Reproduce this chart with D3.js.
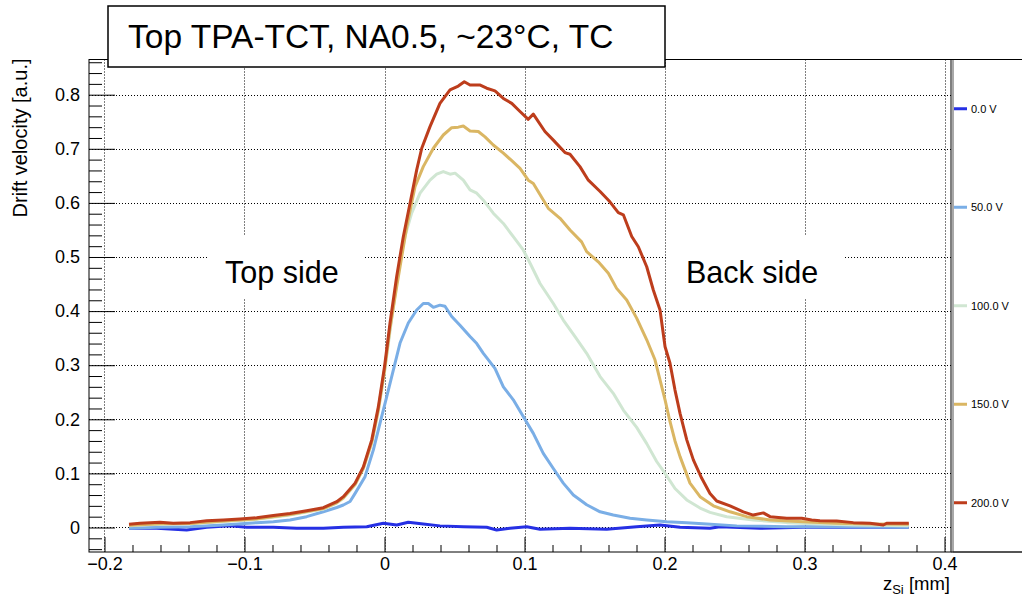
<!DOCTYPE html>
<meta charset="utf-8">
<head>
	<title>Top TPA-TCT drift velocity</title>
	<script type="text/javascript" src="https://cdn.jsdelivr.net/npm/d3@7"></script>
	<style>
		body { margin: 0; background: #fff; }
		svg { display: block; font-family: "Liberation Sans", Arial, sans-serif; }
		.grid line { stroke: #000; stroke-width: 1; stroke-dasharray: 1,2; }
		.axis path { display: none; }
		.axis line { stroke: #000; }
		.axis text { font-size: 18px; fill: #000; font-family: "Liberation Sans", Arial, sans-serif; }
	</style>
</head>
<body>
<div id="chart"></div>
<script>
// series labels + colours
var labels = ["0.0 V", "50.0 V", "100.0 V", "150.0 V", "200.0 V"];
var colors = ["#2630e4", "#7aaee6", "#d0e6d2", "#dab663", "#bd3d1c"];

// [z (mm), drift velocity]
var v0 = [[-0.1825,-0.0015],[-0.1627,-0.0015],[-0.1413,-0.0046],[-0.127,0.0004],[-0.1104,0.003],[-0.0984,0.0004],[-0.0794,0.0004],[-0.0627,-0.0015],[-0.0437,-0.0015],[-0.0294,0.0004],[-0.0127,0.0015],[-0.0008,0.0078],[0.0087,0.0046],[0.017,0.0096],[0.0277,0.0065],[0.0396,0.003],[0.0563,0.0015],[0.073,0.0004],[0.0801,-0.0046],[0.0896,-0.0015],[0.1016,0.0015],[0.1111,-0.0033],[0.1325,-0.0015],[0.1587,-0.0033],[0.1801,0.0015],[0.1968,0.0046],[0.2111,0.0004],[0.2325,-0.0015],[0.2396,0.0015],[0.2682,-0.0015],[0.2991,0.0004],[0.3349,0.0004],[0.3745,0.0004]];

var v50 = [[-0.1825,-0.0015],[-0.1627,0.0004],[-0.1389,0.0015],[-0.1151,0.0046],[-0.0913,0.009],[-0.0794,0.0107],[-0.0675,0.0139],[-0.0556,0.020],[-0.0437,0.029],[-0.0341,0.037],[-0.0294,0.0416],[-0.0246,0.048],[-0.021,0.063],[-0.0139,0.094],[-0.008,0.143],[-0.0032,0.193],[0.0016,0.242],[0.0063,0.291],[0.0111,0.341],[0.017,0.378],[0.023,0.402],[0.0277,0.414],[0.0313,0.414],[0.0349,0.407],[0.0396,0.411],[0.0432,0.409],[0.048,0.390],[0.0539,0.374],[0.0611,0.353],[0.0659,0.340],[0.0706,0.322],[0.0789,0.294],[0.0849,0.260],[0.092,0.236],[0.0991,0.205],[0.1063,0.174],[0.1134,0.137],[0.1206,0.109],[0.1277,0.082],[0.1349,0.060],[0.1444,0.042],[0.154,0.029],[0.1634,0.023],[0.1754,0.017],[0.1873,0.014],[0.2016,0.0107],[0.2159,0.009],[0.2301,0.0065],[0.2516,0.003],[0.2873,0.0015],[0.323,0.0015],[0.3745,0.0004]];

var v100 = [[-0.1825,0.003],[-0.16,0.006],[-0.139,0.007],[-0.115,0.011],[-0.091,0.015],[-0.0675,0.023],[-0.0437,0.034],[-0.0341,0.045],[-0.0294,0.054],[-0.021,0.079],[-0.0151,0.109],[-0.0091,0.156],[-0.0044,0.215],[0,0.287],[0.0039,0.362],[0.0099,0.476],[0.0146,0.5375],[0.0194,0.581],[0.0254,0.618],[0.0325,0.642],[0.0373,0.653],[0.042,0.658],[0.0468,0.653],[0.0504,0.655],[0.0563,0.642],[0.0611,0.624],[0.0659,0.618],[0.0706,0.605],[0.0777,0.581],[0.0849,0.562],[0.092,0.5375],[0.0991,0.513],[0.1039,0.489],[0.1111,0.451],[0.1206,0.414],[0.1277,0.3835],[0.1361,0.353],[0.1444,0.322],[0.154,0.279],[0.1634,0.248],[0.1706,0.217],[0.1801,0.185],[0.1873,0.155],[0.1944,0.122],[0.2004,0.100],[0.2075,0.072],[0.2159,0.051],[0.2254,0.036],[0.2325,0.028],[0.2444,0.020],[0.2634,0.014],[0.2873,0.009],[0.311,0.0065],[0.3349,0.0046],[0.3745,0.003]];

var v150 = [[-0.1825,0.004],[-0.16,0.007],[-0.139,0.0075],[-0.115,0.012],[-0.091,0.016],[-0.0675,0.024],[-0.0437,0.035],[-0.0341,0.046],[-0.0294,0.055],[-0.021,0.080],[-0.0151,0.110],[-0.0091,0.158],[-0.0044,0.218],[0,0.290],[0.0039,0.368],[0.0087,0.445],[0.0159,0.556],[0.0218,0.630],[0.0277,0.667],[0.0349,0.701],[0.042,0.7255],[0.048,0.739],[0.0527,0.740],[0.0563,0.742],[0.0611,0.733],[0.067,0.732],[0.0718,0.722],[0.0777,0.707],[0.0849,0.692],[0.0909,0.678],[0.0968,0.664],[0.1027,0.642],[0.1063,0.636],[0.117,0.590],[0.1254,0.5715],[0.1325,0.550],[0.1408,0.528],[0.1444,0.510],[0.1527,0.491],[0.1599,0.470],[0.1658,0.442],[0.173,0.4205],[0.1801,0.387],[0.1873,0.347],[0.1932,0.310],[0.1968,0.273],[0.2004,0.236],[0.2039,0.196],[0.2075,0.160],[0.2111,0.131],[0.2182,0.082],[0.2254,0.057],[0.2349,0.040],[0.2468,0.029],[0.2587,0.020],[0.2754,0.0139],[0.2991,0.0107],[0.323,0.0078],[0.3468,0.0065],[0.3745,0.006]];

var v200 = [[-0.1825,0.006],[-0.1746,0.0078],[-0.1604,0.0096],[-0.1509,0.0078],[-0.1389,0.009],[-0.127,0.0126],[-0.1151,0.0139],[-0.1032,0.0157],[-0.0913,0.018],[-0.0794,0.022],[-0.0675,0.026],[-0.0556,0.031],[-0.0437,0.0366],[-0.0341,0.0477],[-0.0294,0.057],[-0.021,0.082],[-0.0151,0.112],[-0.0091,0.162],[-0.0044,0.223],[0,0.297],[0.0039,0.377],[0.0087,0.464],[0.0134,0.537],[0.0182,0.599],[0.023,0.661],[0.0266,0.701],[0.0325,0.741],[0.0396,0.784],[0.0468,0.809],[0.0527,0.816],[0.057,0.824],[0.0611,0.818],[0.068,0.818],[0.073,0.812],[0.0789,0.807],[0.0849,0.793],[0.0909,0.784],[0.0968,0.769],[0.1027,0.7545],[0.1063,0.764],[0.1146,0.732],[0.1206,0.716],[0.1289,0.693],[0.1325,0.690],[0.1396,0.667],[0.1456,0.642],[0.154,0.621],[0.161,0.602],[0.167,0.582],[0.1706,0.578],[0.1766,0.538],[0.1813,0.519],[0.1873,0.482],[0.192,0.439],[0.1968,0.402],[0.2004,0.334],[0.2039,0.304],[0.2075,0.254],[0.2111,0.211],[0.2159,0.162],[0.2206,0.125],[0.2266,0.091],[0.2325,0.063],[0.2373,0.049],[0.2468,0.040],[0.2563,0.029],[0.2634,0.023],[0.2706,0.027],[0.2754,0.020],[0.2873,0.017],[0.298,0.017],[0.3051,0.014],[0.311,0.0126],[0.323,0.012],[0.3349,0.009],[0.3468,0.0078],[0.3563,0.0046],[0.3587,0.0078],[0.3745,0.0078]];

var series = [v0, v50, v100, v150, v200];

// ticks
var xMajor = [-0.2, -0.1, 0, 0.1, 0.2, 0.3, 0.4];
var xMinor = [-0.18,-0.16,-0.14,-0.12,-0.08,-0.06,-0.04,-0.02,0.02,0.04,0.06,0.08,0.12,0.14,0.16,0.18,0.22,0.24,0.26,0.28,0.32,0.34,0.36,0.38];
var yMajor = [0, 0.1, 0.2, 0.3, 0.4, 0.5, 0.6, 0.7, 0.8];
var yMinor = [-0.04,-0.02,0.02,0.04,0.06,0.08,0.12,0.14,0.16,0.18,0.22,0.24,0.26,0.28,0.32,0.34,0.36,0.38,0.42,0.44,0.46,0.48,0.52,0.54,0.56,0.58,0.62,0.64,0.66,0.68,0.72,0.74,0.76,0.78,0.82,0.84,0.86];

var W = 1022, H = 598;
var frame = {left: 89, right: 951, top: 59.5, bottom: 552};

var svg = d3.select("#chart").append("svg")
	.attr("width", W)
	.attr("height", H);

var x = d3.scaleLinear().domain([-0.21107, 0.40464]).range([frame.left, frame.right]);
var y = d3.scaleLinear().domain([-0.04529, 0.86506]).range([frame.bottom, frame.top]);

var fmt = function(d) { return d === 0 ? "0" : d3.format(".1f")(d); };

// grid
var grid = svg.append("g").attr("class", "grid");
grid.selectAll("line.gx").data(xMajor).enter().append("line")
	.attr("x1", d => Math.round(x(d)) + 0.5).attr("x2", d => Math.round(x(d)) + 0.5)
	.attr("y1", frame.top).attr("y2", frame.bottom);
grid.selectAll("line.gy").data(yMajor).enter().append("line")
	.attr("x1", frame.left).attr("x2", frame.right)
	.attr("y1", d => Math.round(y(d)) + 0.5).attr("y2", d => Math.round(y(d)) + 0.5);

// white boxes behind the side labels
svg.append("rect").attr("x", 207).attr("y", 236).attr("width", 156).attr("height", 62).attr("fill", "#fff");
svg.append("rect").attr("x", 667).attr("y", 236).attr("width", 177).attr("height", 62).attr("fill", "#fff");
svg.append("text").attr("x", 225).attr("y", 283).attr("font-size", 30.5).text("Top side");
svg.append("text").attr("x", 686).attr("y", 283).attr("font-size", 30.5).text("Back side");

// curves
var line = d3.line().x(d => x(d[0])).y(d => y(d[1]));
svg.append("g").selectAll("path").data(series).enter().append("path")
	.attr("d", line)
	.attr("fill", "none")
	.attr("stroke", (d, i) => colors[i])
	.attr("stroke-width", 3)
	.attr("stroke-linejoin", "round");

// axes
svg.append("g").attr("class", "axis")
	.attr("transform", "translate(" + frame.left + ",0)")
	.call(d3.axisLeft(y).tickValues(yMinor).tickSize(-13).tickFormat(""));
svg.append("g").attr("class", "axis")
	.attr("transform", "translate(" + frame.left + ",0)")
	.call(d3.axisLeft(y).tickValues(yMajor).tickSize(-26).tickPadding(9).tickFormat(fmt));
svg.append("g").attr("class", "axis")
	.attr("transform", "translate(0," + frame.bottom + ")")
	.call(d3.axisBottom(x).tickValues(xMinor).tickSize(-7).tickFormat(""));
svg.append("g").attr("class", "axis")
	.attr("transform", "translate(0," + frame.bottom + ")")
	.call(d3.axisBottom(x).tickValues(xMajor).tickSize(-15).tickPadding(5).tickFormat(fmt));

// frame
svg.append("rect")
	.attr("x", frame.left).attr("y", frame.top)
	.attr("width", frame.right - frame.left).attr("height", frame.bottom - frame.top)
	.attr("fill", "none").attr("stroke", "#000").attr("stroke-width", 1);
// legend box at the right
svg.append("rect")
	.attr("x", frame.right + 2).attr("y", frame.top)
	.attr("width", 80).attr("height", frame.bottom - frame.top)
	.attr("fill", "none").attr("stroke", "#555").attr("stroke-width", 1);
svg.append("line").attr("x1", frame.right).attr("x2", W).attr("y1", frame.top).attr("y2", frame.top).attr("stroke", "#000");
svg.append("line").attr("x1", frame.right).attr("x2", W).attr("y1", frame.bottom).attr("y2", frame.bottom).attr("stroke", "#000");

var rowH = (frame.bottom - frame.top) / labels.length;
var leg = svg.append("g").selectAll("g").data(labels).enter().append("g")
	.attr("transform", (d, i) => "translate(" + (frame.right + 3) + "," + (frame.top + rowH * (i + 0.5)) + ")");
leg.append("line").attr("x1", 0).attr("x2", 13).attr("y1", 0).attr("y2", 0)
	.attr("stroke", (d, i) => colors[i]).attr("stroke-width", 3);
leg.append("text").attr("x", 17).attr("y", 4).attr("font-size", 11).text(d => d);

// axis titles
svg.append("text")
	.attr("transform", "translate(27," + (frame.top - 1) + ") rotate(-90)")
	.attr("text-anchor", "end")
	.attr("font-size", 20)
	.text("Drift velocity [a.u.]");
var xt = svg.append("text").attr("x", 950).attr("y", 590).attr("text-anchor", "end").attr("font-size", 18.5);
xt.append("tspan").text("z");
xt.append("tspan").attr("font-size", 13).attr("dy", 4).text("Si");
xt.append("tspan").attr("dy", -4).text(" [mm]");

// title box
svg.append("rect").attr("x", 108).attr("y", 6).attr("width", 557).attr("height", 61)
	.attr("fill", "#fff").attr("stroke", "#000").attr("stroke-width", 1.5);
svg.append("text").attr("x", 128).attr("y", 48).attr("font-size", 33.5)
	.text("Top TPA-TCT, NA0.5, ~23°C, TC");
</script>
</body>
</html>
